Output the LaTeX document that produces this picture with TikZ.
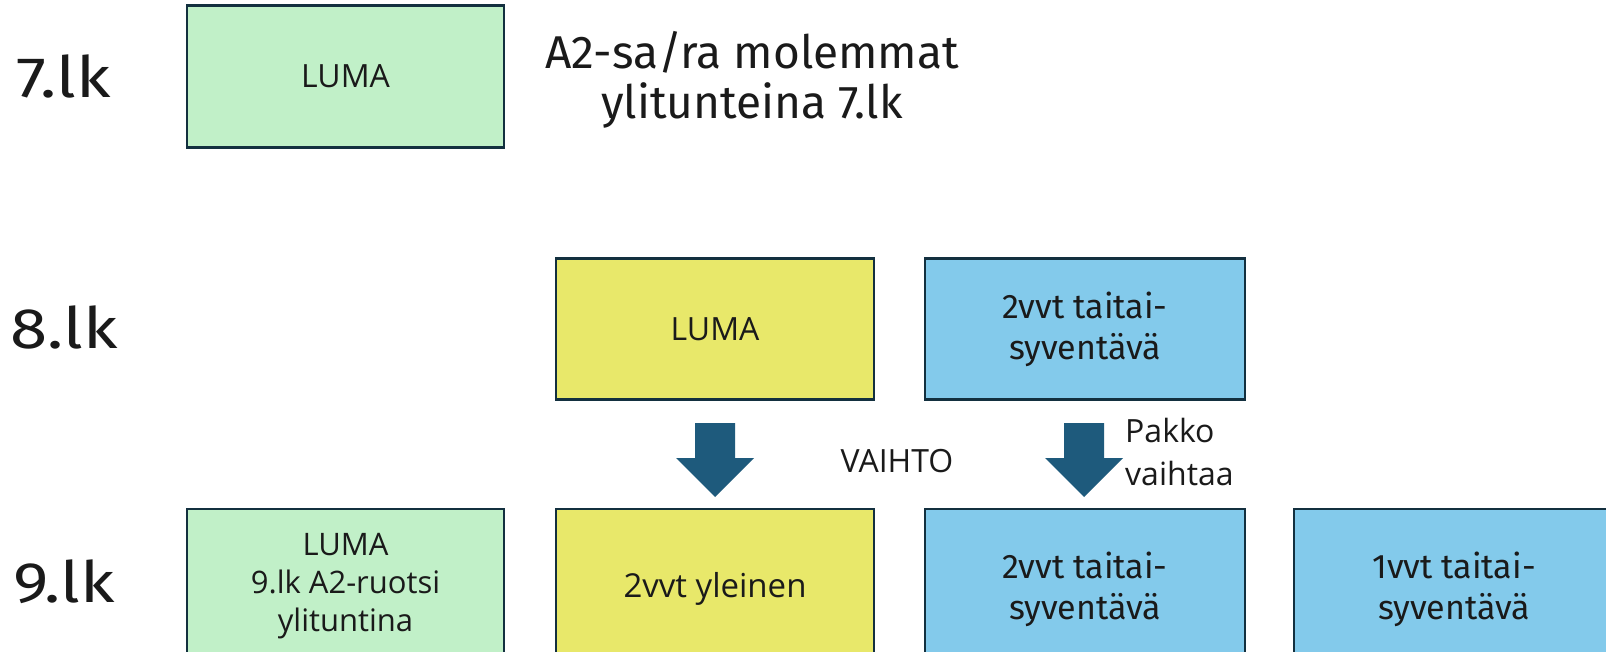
\documentclass[tikz,border=0pt]{standalone}
\usepackage{fontspec}
\setmainfont{Fira Sans}
\newfontfamily\condfont{Fira Sans}
\newfontfamily\widefont{Open Sans}
\newfontfamily\gradefont[FakeStretch=1.18]{Fira Sans}
\definecolor{lgreen}{HTML}{C1F0C8}
\definecolor{lyellow}{HTML}{E8E86A}
\definecolor{lblue}{HTML}{83CAEB}
\definecolor{edge}{HTML}{13303F}
\definecolor{arrowc}{HTML}{1E5A7C}
\definecolor{txt}{HTML}{1A1A1A}
\tikzset{
  boxnode/.style={draw=edge, line width=2.6pt, minimum width=#1, inner sep=0pt, text=txt, align=center, font=\condfont\fontsize{34}{41}\selectfont},
  boxnode/.default=317pt,
  widetext/.style={font=\widefont\fontsize{32}{38}\selectfont},
  grade/.style={text=txt, anchor=base, font=\gradefont\fontsize{57}{60}\selectfont},
  plain/.style={text=txt, align=center},
  blockarrow/.style={fill=arrowc, draw=none}
}
\begin{document}
\begin{tikzpicture}[x=1pt,y=-1pt]
\useasboundingbox (0,0) rectangle (1606,651);
\clip (0,0) rectangle (1606,651);
\fill[white] (0,0) rectangle (1606,651);
% grade labels
\node[grade] (g7) at (64,97) {7.lk};
\node[grade] (g8) at (64,348) {8.lk};
\node[grade] (g9) at (64,602) {9.lk};
% row 7
\node[boxnode=317pt, minimum height=142pt, fill=lgreen, widetext] (b7) at (345.5,76.5) {LUMA};
\node[plain, font=\fontsize{46}{50}\selectfont] (note) at (752,80) {A2-sa/ra molemmat\\ylitunteina 7.lk};
% row 8
\node[boxnode=318pt, minimum height=141pt, fill=lyellow, widetext] (b8a) at (715,329) {LUMA};
\node[boxnode=320pt, minimum height=141pt, fill=lblue] (b8b) at (1085,329) {2vvt taitai-\\syventävä};
% row 9
\node[boxnode=317pt, minimum height=154pt, fill=lgreen, font=\widefont\fontsize{31}{38}\selectfont] (b9a) at (345.5,586) {LUMA\\9.lk A2-ruotsi\\ylituntina};
\node[boxnode=318pt, minimum height=160pt, fill=lyellow, font=\widefont\fontsize{33}{38}\selectfont] (b9b) at (715,589) {2vvt yleinen};
\node[boxnode=320pt, minimum height=160pt, fill=lblue] (b9c) at (1085,589) {2vvt taitai-\\syventävä};
\node[boxnode=320pt, minimum height=160pt, fill=lblue] (b9d) at (1454,589) {1vvt taitai-\\syventävä};
% block arrows
\coordinate (a1) at (715,423);
\coordinate (a2) at (1084,423);
\foreach \a in {a1,a2}{
  \fill[blockarrow] ([xshift=-20pt]\a) -- ([xshift=20pt]\a) -- ([xshift=20pt,yshift=-35pt]\a) -- ([xshift=39pt,yshift=-35pt]\a) -- ([yshift=-74pt]\a) -- ([xshift=-39pt,yshift=-35pt]\a) -- ([xshift=-20pt,yshift=-35pt]\a) -- cycle;
}
\node[plain, widetext] (vaihto) at (897,461) {VAIHTO};
\node[text=txt, align=left, anchor=base west, inner sep=0pt, font=\widefont\fontsize{32}{43}\selectfont] (pakko) at (1125,485) {Pakko\\vaihtaa};
\end{tikzpicture}
\end{document}
